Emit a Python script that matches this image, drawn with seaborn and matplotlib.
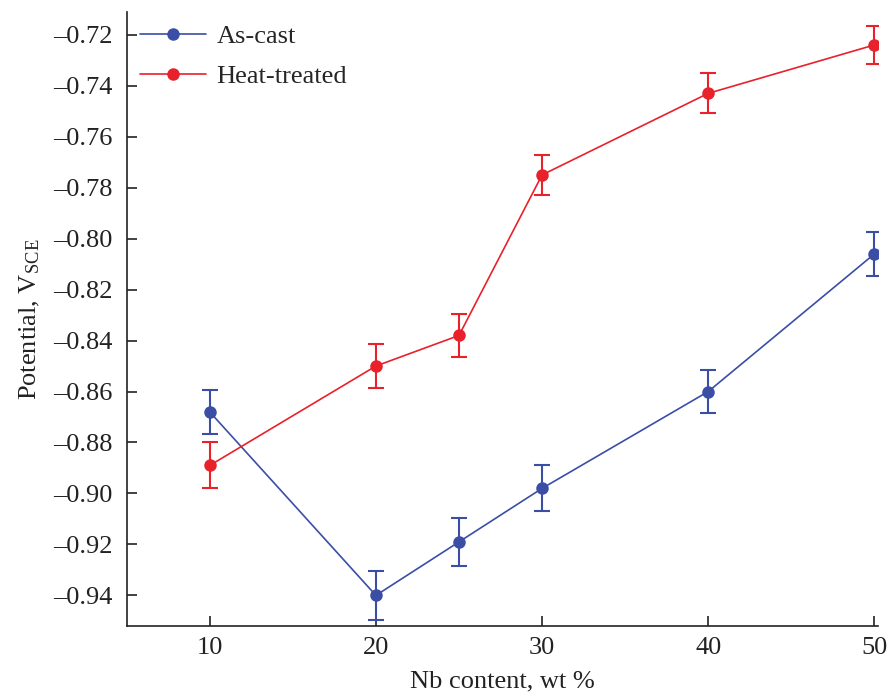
import matplotlib
matplotlib.use("Agg")
import matplotlib.pyplot as plt
import seaborn as sns
import pandas as pd

nb_content = [10, 20, 25, 30, 40, 50]
as_cast = [-0.868, -0.940, -0.919, -0.898, -0.860, -0.806]
as_cast_err = [0.0085, 0.0095, 0.0095, 0.009, 0.0085, 0.0085]
heat_treated = [-0.889, -0.850, -0.838, -0.775, -0.743, -0.724]
heat_treated_err = [0.009, 0.0085, 0.0085, 0.0078, 0.0078, 0.0075]
series_names = ["As-cast", "Heat-treated"]
x_ticks = [10, 20, 30, 40, 50]
y_ticks = [-0.94, -0.92, -0.90, -0.88, -0.86, -0.84, -0.82, -0.80, -0.78, -0.76, -0.74, -0.72]

colors = {"As-cast": "#3a4ea6", "Heat-treated": "#e8212b"}

df = pd.concat([
    pd.DataFrame({"Nb": nb_content, "E": as_cast, "err": as_cast_err, "s": series_names[0]}),
    pd.DataFrame({"Nb": nb_content, "E": heat_treated, "err": heat_treated_err, "s": series_names[1]}),
])

sns.set_style("white")
plt.rcParams["font.family"] = ["Liberation Serif", "DejaVu Serif"]
plt.rcParams["mathtext.fontset"] = "stix"

fig = plt.figure(figsize=(8.92, 6.94), dpi=100)
ax = fig.add_axes([0.142, 0.098, 0.842, 0.885])

sns.lineplot(data=df, x="Nb", y="E", hue="s", palette=colors, marker="o",
             markersize=9, markeredgewidth=0, linewidth=1.2, ax=ax)
for name in series_names:
    sub = df[df["s"] == name]
    ax.errorbar(sub["Nb"], sub["E"], yerr=sub["err"], fmt="none",
                ecolor=colors[name], elinewidth=1.5, capsize=6, capthick=1.5)

ax.set_xlim(5, 50.2)
ax.set_ylim(-0.952, -0.711)
ax.set_xticks(x_ticks)
ax.set_yticks(y_ticks)
ax.set_yticklabels([f"{v:.2f}".replace("-", "\u2013") for v in y_ticks])
ax.tick_params(left=True, bottom=True, direction="in", length=7, width=1.2,
               labelsize=19, pad=8, colors="#222222")
ax.tick_params(axis="y", pad=10)
for sp in ["top", "right"]:
    ax.spines[sp].set_visible(False)
for sp in ["left", "bottom"]:
    ax.spines[sp].set_linewidth(1.2)
    ax.spines[sp].set_color("#222222")

ax.set_xlabel("Nb content, wt %", fontsize=19, color="#222222", labelpad=8)
ax.set_ylabel(r"Potential, V$_{\mathregular{SCE}}$", fontsize=19, color="#222222", labelpad=8)

leg = ax.legend(loc="upper left", frameon=False, fontsize=19, handlelength=2.5,
                borderaxespad=0.1, labelspacing=0.62, handletextpad=0.4,
                bbox_to_anchor=(0.0, 1.0))

fig.savefig("out.png", dpi=100)
